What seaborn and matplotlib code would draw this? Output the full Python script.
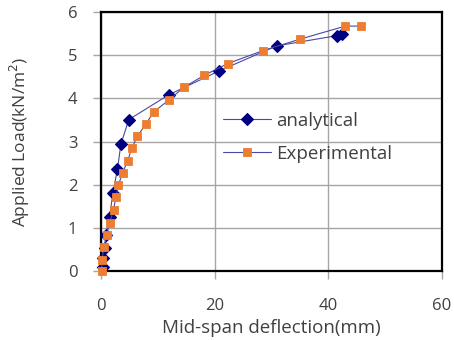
import numpy as np
import pandas as pd
import matplotlib
matplotlib.use("Agg")
import matplotlib.pyplot as plt
import seaborn as sb

# analytical curve
ana_x = [0.3, 0.4, 0.7, 0.9, 1.5, 2.1, 2.9, 3.5, 4.9, 12.0, 20.8, 30.9, 41.6, 42.4]
ana_y = [0.08, 0.29, 0.52, 0.82, 1.24, 1.81, 2.36, 2.94, 3.51, 4.09, 4.64, 5.22, 5.46, 5.50]

# experimental
exp_x = [0.1, 0.2, 0.5, 1.0, 1.5, 2.2, 2.6, 3.05, 3.8, 4.7, 5.4, 6.4, 7.9, 9.3,
         11.9, 14.6, 18.2, 22.3, 28.5, 35.1, 43.0, 45.8]
exp_y = [0.0, 0.26, 0.56, 0.83, 1.11, 1.41, 1.70, 1.98, 2.28, 2.55, 2.84, 3.12,
         3.41, 3.69, 3.96, 4.26, 4.54, 4.81, 5.11, 5.38, 5.68, 5.68]

sb.set_style("white")
plt.rcParams['font.family'] = ['Open Sans', 'DejaVu Sans']
txt_col = '#404040'

fig = plt.figure(figsize=(4.54, 3.4), dpi=100)
ax = fig.add_axes([0.2225, 0.2038, 0.751, 0.76])

line_col = '#4848A8'
sb.lineplot(x=ana_x, y=ana_y, sort=False, ax=ax, color=line_col, lw=0.8,
            marker='D', markersize=6, markerfacecolor='#000080', markeredgewidth=0.8,
            markeredgecolor='#000080', label='analytical', clip_on=False, zorder=3)
sb.lineplot(x=exp_x, y=exp_y, sort=False, ax=ax, color=line_col, lw=0.8,
            marker='s', markersize=5.5, markerfacecolor='#ED7D31', markeredgewidth=0.6,
            markeredgecolor='#ED7D31', label='Experimental', clip_on=False, zorder=4)

ax.set_xlim(0, 60)
ax.set_ylim(0, 6)
ax.set_xticks([0, 20, 40, 60])
ax.set_yticks(range(0, 7))
ax.grid(True, color='#A6A6A6', lw=1)
for s in ax.spines.values():
    s.set_color('black')
    s.set_linewidth(1.6)
ax.tick_params(axis='both', which='both', direction='out', length=6, width=1,
               color='#A6A6A6', labelsize=12, labelcolor=txt_col,
               left=True, bottom=True)
ax.tick_params(axis='x', pad=14)
ax.tick_params(axis='y', pad=11)

ax.set_xlabel('Mid-span deflection(mm)', fontsize=13.5, color=txt_col, labelpad=3)
ax.set_ylabel('Applied Load(kN/m$^2$)', fontsize=12.5, color=txt_col, labelpad=26)

leg = ax.legend(loc='upper left', bbox_to_anchor=(0.357, 0.614), frameon=False,
                borderpad=0, borderaxespad=0, fontsize=13.5, handlelength=2.56,
                handletextpad=0.27, labelspacing=0.8)
for t in leg.get_texts():
    t.set_color(txt_col)

fig.savefig('out.png', dpi=100)
